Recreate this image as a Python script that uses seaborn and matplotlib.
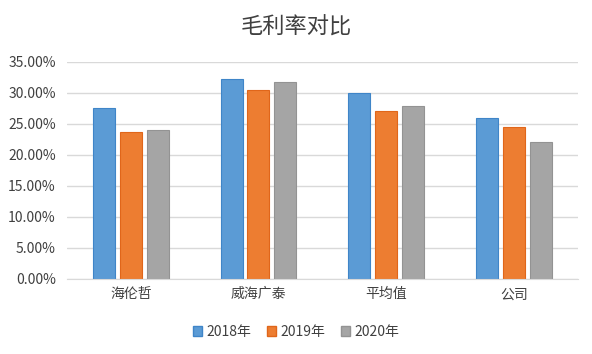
import matplotlib
matplotlib.use("Agg")
import matplotlib.pyplot as plt
import numpy as np
import pandas as pd
import seaborn as sns
from matplotlib.ticker import FuncFormatter

categories = ["海伦哲", "威海广泰", "平均值", "公司"]
years = ["2018年", "2019年", "2020年"]
v2018 = [27.6, 32.3, 30.0, 26.0]
v2019 = [23.7, 30.5, 27.1, 24.5]
v2020 = [24.0, 31.8, 27.9, 22.1]

df = pd.DataFrame({
    "cat": categories * 3,
    "year": [years[0]] * 4 + [years[1]] * 4 + [years[2]] * 4,
    "val": v2018 + v2019 + v2020,
})

sns.set_style("white")
plt.rcParams['font.family'] = ['Noto Sans CJK SC', 'DejaVu Sans']

colors = ["#5B9BD5", "#ED7D31", "#A5A5A5"]
edges = ["#3F85C8", "#E0661A", "#939393"]

fig = plt.figure(figsize=(5.92, 3.54), dpi=100)
ax = fig.add_axes([0.113, 0.212, 0.863, 0.613])

sns.barplot(data=df, x="cat", y="val", hue="year", palette=colors,
            saturation=1, width=0.63, gap=0.18, ax=ax, legend=False)

for i, cont in enumerate(ax.containers):
    for p in cont:
        p.set_edgecolor(edges[i])
        p.set_linewidth(0.8)

ax.set_ylim(0, 35)
ax.set_yticks(np.arange(0, 36, 5))
ax.yaxis.set_major_formatter(FuncFormatter(lambda v, _: f"{v:.2f}%"))
ax.grid(axis="y", color="#D9D9D9", linewidth=1)
ax.set_axisbelow(True)
for s in ["top", "right", "left"]:
    ax.spines[s].set_visible(False)
ax.spines["bottom"].set_color("#D9D9D9")
ax.tick_params(axis="y", length=0, labelsize=10, colors="#404040", pad=8)
ax.tick_params(axis="x", length=0, labelsize=10, colors="#404040", pad=6)
ax.set_xlabel("")
ax.set_ylabel("")
ax.set_xlim(-0.5, 3.5)

fig.suptitle("毛利率对比", y=0.955, fontsize=16, color="#404040")

handles = [plt.Rectangle((0, 0), 1, 1, facecolor=c, edgecolor=e) for c, e in zip(colors, edges)]
fig.legend(handles, years, loc="center", bbox_to_anchor=(0.5, 0.062), ncol=3,
           frameon=False, fontsize=10, handlelength=0.7, handleheight=0.7,
           handletextpad=0.3, columnspacing=1.1, labelcolor="#404040")

fig.savefig("out.png", dpi=100)
